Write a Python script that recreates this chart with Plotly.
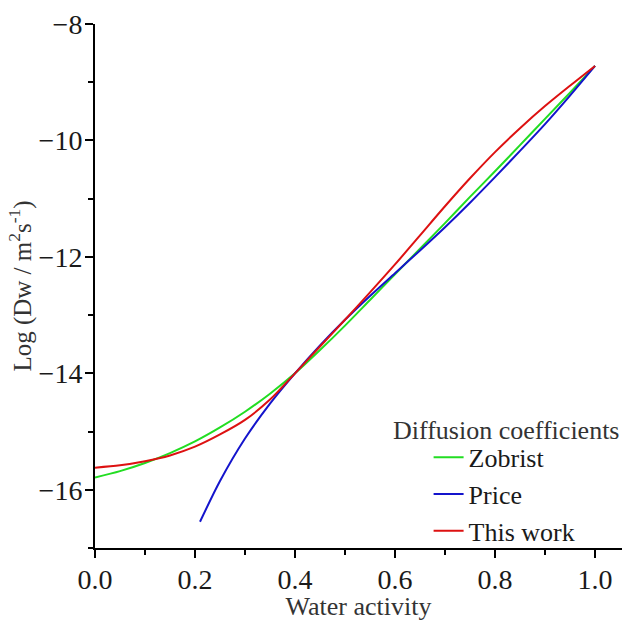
import plotly.graph_objects as go

# Zobrist
zob_x = [0.0, 0.05, 0.1, 0.15, 0.2, 0.25, 0.3, 0.35, 0.4, 0.45, 0.5, 0.55, 0.6, 0.65, 0.7, 0.75, 0.8, 0.85, 0.9, 0.95, 1.0]
zob_y = [-15.79, -15.68, -15.54, -15.37, -15.17, -14.93, -14.66, -14.35, -14.0, -13.60, -13.18, -12.74, -12.30,
         -11.86, -11.42, -10.97, -10.53, -10.08, -9.63, -9.18, -8.72]

# Price
pri_x = [0.21, 0.25, 0.3, 0.35, 0.4, 0.45, 0.5, 0.55, 0.6, 0.65, 0.7, 0.75, 0.8, 0.85, 0.9, 0.95, 1.0]
pri_y = [-16.55, -15.85, -15.12, -14.52, -14.0, -13.52, -13.08, -12.67, -12.28, -11.89, -11.49, -11.07, -10.63,
         -10.18, -9.72, -9.23, -8.72]

# This work
tw_x = [0.0, 0.05, 0.1, 0.15, 0.2, 0.25, 0.3, 0.35, 0.4, 0.45, 0.5, 0.55, 0.6, 0.65, 0.7, 0.75, 0.8, 0.85, 0.9, 0.95, 1.0]
tw_y = [-15.62, -15.58, -15.51, -15.41, -15.26, -15.05, -14.80, -14.45, -14.0, -13.54, -13.08, -12.61, -12.13,
        -11.63, -11.13, -10.65, -10.20, -9.79, -9.41, -9.06, -8.72]

# Tick labels
x_tickvals = [0.0, 0.2, 0.4, 0.6, 0.8, 1.0]
x_ticktext = ["0.0", "0.2", "0.4", "0.6", "0.8", "1.0"]
y_tickvals = [-16, -14, -12, -10, -8]
y_ticktext = ["\u221216", "\u221214", "\u221212", "\u221210", "\u22128"]

FONT = "'Liberation Serif', 'Times New Roman', Times, serif"
TXT = "#1a1a1a"

fig = go.Figure()
fig.add_trace(go.Scatter(x=zob_x, y=zob_y, mode="lines", name="Zobrist",
                         line=dict(color="#22dd22", width=2, shape="spline", smoothing=0.8)))
fig.add_trace(go.Scatter(x=pri_x, y=pri_y, mode="lines", name="Price",
                         line=dict(color="#1414cc", width=2, shape="spline", smoothing=0.8)))
fig.add_trace(go.Scatter(x=tw_x, y=tw_y, mode="lines", name="This work",
                         line=dict(color="#dd1111", width=2, shape="spline", smoothing=0.8)))

fig.add_annotation(text="Diffusion coefficients", xref="paper", yref="paper",
                   x=0.998, y=0.225, xanchor="right", yanchor="middle", showarrow=False,
                   font=dict(family=FONT, size=26, color="#333333"))

fig.update_layout(
    width=624, height=621,
    margin=dict(l=95, r=2, t=24, b=71),
    paper_bgcolor="white", plot_bgcolor="white",
    font=dict(family=FONT, color=TXT, size=26),
    showlegend=True,
    legend=dict(
        font=dict(family=FONT, size=26, color=TXT),
        x=0.633, xanchor="left", y=-0.013, yanchor="bottom",
        bgcolor="rgba(0,0,0,0)", borderwidth=0, tracegroupgap=0,
    ),
    xaxis=dict(
        range=[0, 1.054], showgrid=False, zeroline=False,
        showline=True, linecolor="black", linewidth=2,
        ticks="outside", ticklen=8, tickwidth=2, tickcolor="black",
        tickvals=x_tickvals, ticktext=x_ticktext,
        minor=dict(tickvals=[0.1, 0.3, 0.5, 0.7, 0.9], ticks="outside", ticklen=5, tickwidth=2, tickcolor="black"),
        tickfont=dict(family=FONT, size=28, color=TXT),
        ticklabelstandoff=-3,
        title=dict(text="Water activity", font=dict(family=FONT, size=26, color="#333333"), standoff=6),
    ),
    yaxis=dict(
        range=[-17, -8], showgrid=False, zeroline=False,
        showline=True, linecolor="black", linewidth=2,
        ticks="outside", ticklen=8, tickwidth=2, tickcolor="black",
        tickvals=y_tickvals, ticktext=y_ticktext,
        minor=dict(tickvals=[-17, -15, -13, -11, -9], ticks="outside", ticklen=5, tickwidth=2, tickcolor="black"),
        tickfont=dict(family=FONT, size=28, color=TXT),
        ticklabelstandoff=-3,
        title=dict(text="Log (Dw / m<sup>2</sup>s<sup>-1</sup>)", font=dict(family=FONT, size=25, color="#333333"), standoff=0),
    ),
)

fig.write_html("out.html")
